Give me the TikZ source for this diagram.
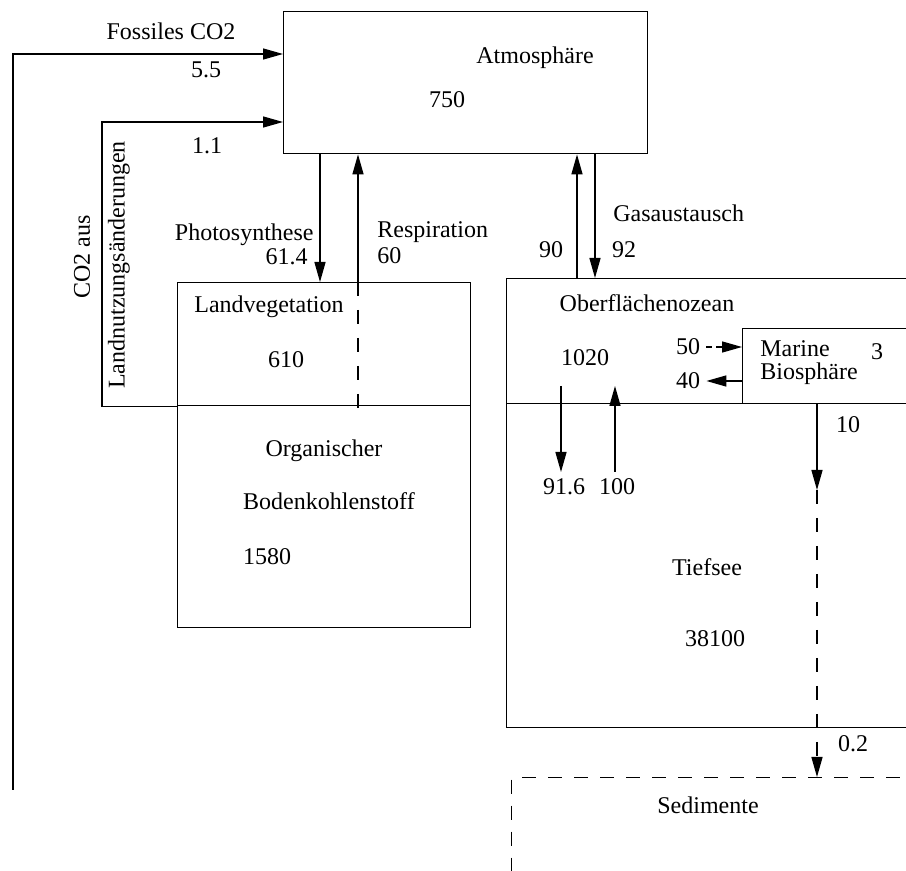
\documentclass[tikz,border=0pt]{standalone}
\usepackage{fontspec}
\setmainfont{Liberation Serif}
\usetikzlibrary{arrows.meta}

\begin{document}
\begin{tikzpicture}[x=0.5pt, y=-0.5pt,
    box/.style={draw, line width=0.7pt, anchor=north west, inner sep=0pt},
    dashed_box/.style={box, dash pattern=on 7pt off 6pt},
    txt/.style={inner sep=0pt, font=\fontsize{12}{12}\selectfont},
    arrow/.style={-{Triangle[length=10pt, width=5.5pt]}, line width=0.7pt},
    dashed_line/.style={line width=0.7pt, dash pattern=on 7pt off 7pt}
]
\useasboundingbox (0,0) rectangle (906,871);
\clip (0,0) rectangle (906,871);

% Reservoirs
\node[box, minimum width=182pt, minimum height=71pt] (atm) at (283,11) {};
\node[box, minimum width=146.5pt, minimum height=61.5pt] (land) at (177,282) {};
\node[box, minimum width=146.5pt, minimum height=111pt] (soil) at (177,405) {};
\node[box, minimum width=210pt, minimum height=62.5pt] (surf) at (506,278) {};
\node[box, minimum width=100pt, minimum height=37.5pt] (marine) at (742,328) {};
\node[box, minimum width=210pt, minimum height=162pt] (deep) at (506,403) {};
\node[dashed_box, minimum width=210pt, minimum height=60pt] (sed) at (511,777) {};

% Reservoir texts
\node[txt] (atm_name) at (535,58) {Atmosphäre};
\node[txt] (atm_val) at (447,100) {750};
\node[txt] (land_name) at (269,307) {Landvegetation};
\node[txt] (land_val) at (286,360) {610};
\node[txt] (soil_name1) at (324,451) {Organischer};
\node[txt] (soil_name2) at (329,501) {Bodenkohlenstoff};
\node[txt] (soil_val) at (267,557) {1580};
\node[txt] (surf_name) at (647,303) {Oberflächenozean};
\node[txt] (surf_val) at (585,358) {1020};
\node[txt, anchor=base west] (marine_name1) at (760,357) {Marine};
\node[txt, anchor=base west] (marine_name2) at (760,380) {Biosphäre};
\node[txt] (marine_val) at (877,352) {3};
\node[txt] (deep_name) at (707,567) {Tiefsee};
\node[txt] (deep_val) at (715,639) {38100};
\node[txt] (sed_name) at (708,805) {Sedimente};

% Flow labels
\node[txt] (l_foss) at (171,31) {Fossiles CO2};
\node[txt] (f_foss) at (206,70) {5.5};
\node[txt] (f_luc) at (207,146) {1.1};
\node[txt, rotate=90] (l_luc1) at (82,257) {CO2 aus};
\node[txt, rotate=90] (l_luc2) at (119,265) {Landnutzungsänderungen};
\node[txt, anchor=east] (l_photo) at (314,235) {Photosynthese};
\node[txt, anchor=east] (f_photo) at (308,257) {61.4};
\node[txt, anchor=west] (l_resp) at (377,232) {Respiration};
\node[txt, anchor=west] (f_resp) at (377,256) {60};
\node[txt, anchor=west] (l_gas) at (613,213) {Gasaustausch};
\node[txt] (f_up) at (551,250) {90};
\node[txt] (f_dn) at (624,250) {92};
\node[txt] (f50) at (688,347) {50};
\node[txt] (f40) at (688,381) {40};
\node[txt] (f916) at (564,487) {91.6};
\node[txt] (f100) at (617,487) {100};
\node[txt] (f10) at (848,425) {10};
\node[txt] (f02) at (853,744) {0.2};

% Helper coordinates
\coordinate (fossil) at (13,790);
\coordinate (y_foss) at (0,54);
\coordinate (y_luc) at (0,122);
\coordinate (x_ph) at (320,0);
\coordinate (x_re) at (358,0);
\coordinate (x_up) at (577,0);
\coordinate (x_dn) at (595,0);
\coordinate (d_dn) at (561,386);
\coordinate (d_up) at (615,386);
\coordinate (d_end) at (0,472);
\coordinate (c10) at (817,490);

% Fluxes
\draw[arrow] (fossil) |- (atm.west |- y_foss);
\draw[arrow] (land.south west) -- ++(-75,0) |- (atm.west |- y_luc);
\draw[arrow] (atm.south -| x_ph) -- (land.north -| x_ph);
\draw[arrow] (land.north -| x_re) -- (atm.south -| x_re);
\draw[dashed_line] (land.north -| x_re) -- (land.south -| x_re) -- ++(0,12);
\draw[arrow] (surf.north -| x_up) -- (atm.south -| x_up);
\draw[arrow] (atm.south -| x_dn) -- (surf.north -| x_dn);
\draw[arrow, dash pattern=on 3pt off 2pt] ([xshift=3pt]f50.east) -- (marine.west |- f50);
\draw[arrow] (marine.west |- f40) -- ([xshift=3pt]f40.east);
\draw[arrow] (d_dn) -- (d_dn |- d_end);
\draw[arrow] (d_up |- d_end) -- (d_up);
\draw[arrow] (marine.south -| c10) -- (c10);
\draw[arrow, dash pattern=on 7pt off 7pt] (c10) -- (sed.north -| c10);

\end{tikzpicture}
\end{document}
